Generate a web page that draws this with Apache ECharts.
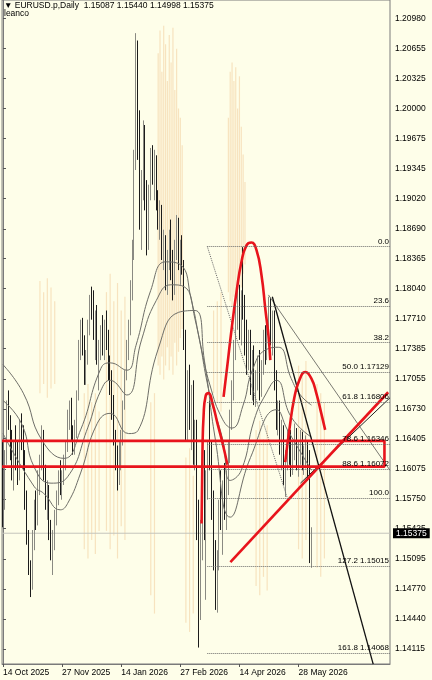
<!DOCTYPE html>
<html><head><meta charset="utf-8">
<script src="https://cdn.jsdelivr.net/npm/echarts@6/dist/echarts.min.js"></script>
<style>html,body{margin:0;padding:0;background:#fefee9}#c{width:432px;height:680px}</style>
</head><body><div id="c"></div><script>
const titleText = '\u25BC EURUSD.p,Daily  1.15087 1.15440 1.14998 1.15375';
const subTitle = 'leanco';
const startDate = '2025-10-14';
const slotCount = 210;
const holidays = ['2025-12-25', '2026-01-01'];
const dateTicks = ['14 Oct 2025', '27 Nov 2025', '14 Jan 2026', '27 Feb 2026', '14 Apr 2026', '28 May 2026'];
const priceTicks = [1.20980, 1.20655, 1.20325, 1.20000, 1.19675, 1.19345, 1.19020, 1.18690, 1.18365, 1.18040, 1.17710, 1.17385, 1.17055, 1.16730, 1.16405, 1.16075, 1.15750, 1.15425, 1.15095, 1.14770, 1.14440, 1.14115];
const lastPrice = 1.15375;
// [open, close, low, high]
const candles = [
[1.1595,1.1574,1.1544,1.1639],[1.1574,1.1623,1.1563,1.1628],[1.1623,1.1672,1.1612,1.1682],[1.1672,1.1661,1.1650,1.1693],
[1.1661,1.1628,1.1617,1.1666],[1.1628,1.1606,1.1595,1.1650],[1.1606,1.1633,1.1584,1.1639],[1.1633,1.1617,1.1606,1.1655],
[1.1617,1.1601,1.1590,1.1639],[1.1601,1.1650,1.1595,1.1661],[1.1650,1.1639,1.1628,1.1668],[1.1639,1.1612,1.1606,1.1655],
[1.1612,1.1568,1.1563,1.1628],[1.1568,1.1530,1.1525,1.1584],[1.1530,1.1497,1.1492,1.1541],[1.1497,1.1481,1.1468,1.1508],
[1.1481,1.1530,1.1476,1.1541],[1.1530,1.1563,1.1519,1.1574],[1.1563,1.1552,1.1541,1.1584],[1.1552,1.1595,1.1546,1.1606],
[1.1595,1.1612,1.1579,1.1623],[1.1612,1.1639,1.1606,1.1655],[1.1639,1.1601,1.1595,1.1650],[1.1601,1.1568,1.1563,1.1612],
[1.1568,1.1584,1.1552,1.1595],[1.1584,1.1535,1.1530,1.1590],[1.1535,1.1514,1.1508,1.1552],[1.1514,1.1525,1.1492,1.1541],
[1.1525,1.1557,1.1519,1.1563],[1.1557,1.1579,1.1546,1.1584],[1.1579,1.1595,1.1568,1.1606],[1.1595,1.1584,1.1579,1.1617],
[1.1584,1.1601,1.1574,1.1606],[1.1601,1.1615,1.1590,1.1623],[1.1615,1.1633,1.1606,1.1639],[1.1633,1.1661,1.1626,1.1672],
[1.1661,1.1677,1.1650,1.1682],[1.1677,1.1644,1.1639,1.1685],[1.1644,1.1628,1.1623,1.1655],[1.1628,1.1650,1.1623,1.1661],
[1.1650,1.1688,1.1641,1.1693],[1.1688,1.1737,1.1682,1.1748],[1.1737,1.1759,1.1726,1.1770],[1.1759,1.1742,1.1731,1.1772],
[1.1742,1.1706,1.1699,1.1753],[1.1706,1.1726,1.1699,1.1737],[1.1726,1.1764,1.1721,1.1770],[1.1764,1.1791,1.1753,1.1797],
[1.1791,1.1780,1.1770,1.1806],[1.1780,1.1753,1.1748,1.1802],[1.1753,1.1770,1.1726,1.1780],[1.1770,1.1726,1.1721,1.1786],
[1.1726,1.1737,1.1693,1.1748],[1.1737,1.1759,1.1726,1.1764],[1.1759,1.1742,1.1731,1.1775],[1.1742,1.1764,1.1726,1.1770],
[1.1764,1.1748,1.1737,1.1780],[1.1748,1.1710,1.1704,1.1759],[1.1710,1.1699,1.1688,1.1731],[1.1699,1.1672,1.1661,1.1715],
[1.1672,1.1639,1.1633,1.1688],[1.1639,1.1617,1.1606,1.1650],[1.1617,1.1595,1.1584,1.1633],[1.1595,1.1628,1.1590,1.1639],
[1.1628,1.1639,1.1606,1.1650],[1.1639,1.1677,1.1633,1.1682],[1.1677,1.1710,1.1672,1.1715],[1.1710,1.1742,1.1704,1.1748],
[1.1742,1.1759,1.1726,1.1770],[1.1759,1.1802,1.1753,1.1813],[1.1802,1.1846,1.1791,1.1857],[1.1846,1.1944,1.1835,1.1955],
[1.1944,1.2042,1.1933,1.2082],[1.2042,1.1955,1.1944,1.2074],[1.1955,1.1879,1.1868,1.1998],[1.1879,1.1922,1.1846,1.1933],
[1.1922,1.1966,1.1900,1.1987],[1.1966,1.1900,1.1889,1.1982],[1.1900,1.1851,1.1840,1.1922],[1.1851,1.1906,1.1846,1.1917],
[1.1906,1.1949,1.1900,1.1957],[1.1949,1.1922,1.1917,1.1960],[1.1922,1.1938,1.1900,1.1955],[1.1938,1.1895,1.1889,1.1949],
[1.1895,1.1873,1.1868,1.1911],[1.1873,1.1889,1.1857,1.1900],[1.1889,1.1840,1.1835,1.1895],[1.1840,1.1857,1.1824,1.1868],
[1.1857,1.1808,1.1802,1.1862],[1.1808,1.1835,1.1797,1.1846],[1.1835,1.1857,1.1824,1.1868],[1.1857,1.1819,1.1813,1.1879],
[1.1819,1.1802,1.1791,1.1846],[1.1802,1.1846,1.1797,1.1857],[1.1846,1.1873,1.1835,1.1884],[1.1873,1.1830,1.1824,1.1881],
[1.1830,1.1846,1.1808,1.1857],[1.1846,1.1824,1.1819,1.1862],[1.1824,1.1742,1.1737,1.1835],[1.1742,1.1650,1.1639,1.1759],
[1.1650,1.1704,1.1639,1.1715],[1.1704,1.1661,1.1650,1.1721],[1.1661,1.1682,1.1628,1.1699],[1.1682,1.1623,1.1612,1.1704],
[1.1623,1.1650,1.1606,1.1661],[1.1650,1.1541,1.1530,1.1661],[1.1541,1.1465,1.1413,1.1574],[1.1465,1.1541,1.1443,1.1552],
[1.1541,1.1584,1.1508,1.1595],[1.1584,1.1541,1.1530,1.1628],[1.1541,1.1595,1.1465,1.1606],[1.1595,1.1628,1.1574,1.1639],
[1.1628,1.1617,1.1606,1.1682],[1.1617,1.1563,1.1552,1.1639],[1.1563,1.1508,1.1497,1.1584],[1.1508,1.1465,1.1454,1.1530],
[1.1465,1.1508,1.1451,1.1519],[1.1508,1.1563,1.1497,1.1574],[1.1563,1.1552,1.1541,1.1606],[1.1552,1.1584,1.1514,1.1595],
[1.1584,1.1557,1.1552,1.1614],[1.1557,1.1595,1.1541,1.1606],[1.1595,1.1628,1.1579,1.1639],[1.1628,1.1661,1.1614,1.1672],
[1.1661,1.1693,1.1650,1.1704],[1.1693,1.1737,1.1682,1.1748],[1.1737,1.1780,1.1726,1.1791],[1.1780,1.1797,1.1759,1.1811],
[1.1797,1.1759,1.1748,1.1808],[1.1759,1.1791,1.1742,1.1802],[1.1791,1.1780,1.1770,1.1849],[1.1780,1.1742,1.1731,1.1797],
[1.1742,1.1721,1.1710,1.1770],[1.1721,1.1748,1.1715,1.1759],[1.1748,1.1699,1.1688,1.1759],[1.1699,1.1726,1.1682,1.1737],
[1.1726,1.1688,1.1677,1.1742],[1.1688,1.1704,1.1675,1.1715],[1.1704,1.1721,1.1693,1.1731],[1.1721,1.1693,1.1682,1.1737],
[1.1693,1.1715,1.1686,1.1726],[1.1715,1.1748,1.1710,1.1759],[1.1748,1.1731,1.1721,1.1764],[1.1731,1.1764,1.1726,1.1770],
[1.1764,1.1786,1.1753,1.1795],[1.1786,1.1753,1.1742,1.1794],[1.1753,1.1770,1.1731,1.1780],[1.1770,1.1699,1.1693,1.1780],
[1.1699,1.1655,1.1650,1.1715],[1.1655,1.1672,1.1644,1.1682],[1.1672,1.1628,1.1623,1.1682],[1.1628,1.1650,1.1606,1.1661],
[1.1650,1.1595,1.1590,1.1655],[1.1595,1.1617,1.1577,1.1628],[1.1617,1.1639,1.1606,1.1650],[1.1639,1.1623,1.1612,1.1655],
[1.1623,1.1606,1.1599,1.1650],[1.1606,1.1633,1.1601,1.1639],[1.1633,1.1644,1.1617,1.1657],[1.1644,1.1612,1.1606,1.1652],
[1.1612,1.1628,1.1599,1.1639],[1.1628,1.1639,1.1612,1.1650],[1.1639,1.1615,1.1606,1.1648],[1.1615,1.1623,1.1601,1.1633],
[1.1623,1.1633,1.1608,1.1644],[1.1633,1.1606,1.1595,1.1639],[1.1606,1.1509,1.1505,1.1628],[1.15087,1.15375,1.14998,1.15440]
];
// faint background histogram stripes: [bar index, low, high]
const shadeStripes = [
[20,1.1690,1.1812],[22,1.1700,1.1800],[24,1.1685,1.1815],[26,1.1695,1.1805],[28,1.1700,1.1790],
[44,1.1520,1.1690],[46,1.1510,1.1700],[48,1.1530,1.1680],[50,1.1515,1.1690],[52,1.1540,1.1670],
[56,1.1540,1.1800],[58,1.1520,1.1820],[60,1.1535,1.1790],[62,1.1510,1.1810],[64,1.1545,1.1780],[66,1.1530,1.1795],
[80,1.1470,1.1680],[82,1.1450,1.1690],[84,1.1720,1.2060],[85,1.1710,1.2085],[86,1.1730,1.2040],[87,1.1705,1.2090],
[88,1.1720,1.2070],[89,1.1740,1.2030],[90,1.1715,1.2080],[91,1.1730,1.2050],[92,1.1710,1.2088],[93,1.1745,1.2020],
[94,1.1720,1.2065],[95,1.1735,1.2000],[96,1.1750,1.1990],[97,1.1760,1.1960],
[99,1.1440,1.1620],[101,1.1430,1.1630],[103,1.1450,1.1600],
[114,1.1690,1.1780],[116,1.1680,1.1790],[118,1.1670,1.1800],
[122,1.1800,1.1990],[123,1.1790,1.2040],[124,1.1785,1.2050],[125,1.1795,1.2030],[126,1.1800,1.2045],
[127,1.1810,1.2000],[128,1.1790,1.2035],[129,1.1805,1.1980],[130,1.1820,1.1950],[131,1.1830,1.1920],
[137,1.1480,1.1650],[139,1.1470,1.1660],[141,1.1490,1.1640],[143,1.1475,1.1655],
[160,1.1520,1.1720],[162,1.1510,1.1710],[164,1.1530,1.1725],[170,1.1500,1.1700],[172,1.1490,1.1690],[174,1.1510,1.1680]
];
// moving-average lines: [bar index, price]
const maUpper = [[0,1.1721],[11,1.1690],[21,1.1639],[33,1.1619],[42,1.1650],[53,1.1717],[58,1.1723],[67,1.1715],[72,1.1742],[80,1.1802],[88,1.1833],[96,1.1830],[102,1.1791],[107,1.1742],[112,1.1699],[119,1.1661],[124,1.1652],[130,1.1677],[135,1.1715],[142,1.1737],[149,1.1740],[156,1.1706],[161,1.1688],[167,1.1677]];
const maMiddle = [[0,1.1682],[10,1.1657],[17,1.1609],[26,1.1592],[35,1.1599],[46,1.1653],[53,1.1693],[58,1.1704],[67,1.1688],[75,1.1748],[83,1.1791],[91,1.1808],[98,1.1806],[104,1.1770],[112,1.1688],[119,1.1639],[123,1.1595],[129,1.1606],[136,1.1661],[142,1.1688],[148,1.1704],[156,1.1664],[167,1.1642]];
const maLower = [[0,1.1646],[17,1.1588],[22,1.1581],[31,1.1563],[35,1.1570],[42,1.1603],[51,1.1657],[58,1.1668],[68,1.1646],[73,1.1649],[84,1.1738],[95,1.1778],[104,1.1780],[109,1.1726],[115,1.1639],[123,1.1555],[134,1.1620],[148,1.1672],[154,1.1650],[167,1.1606]];
// Fibonacci retracement
const fibStart = [110.6, 1.18497];
const fibEnd = [153.9, 1.15760];
const fibNames = ['0.0', '23.6', '38.2', '50.0 1.17129', '61.8 1.16806', '78.6 1.16346', '88.6 1.16072', '100.0', '127.2 1.15015', '161.8 1.14068'];
const fibPrices = [1.18497, 1.17851, 1.17451, 1.17129, 1.16806, 1.16346, 1.16072, 1.15760, 1.15015, 1.14068];
// hand-drawn annotations: [bar index, price]
const redBox = [[-0.5,1.1638],[206.5,1.1638],[206.5,1.1610],[-0.5,1.1610]];
const redTrend = [[123.1,1.1506],[208.5,1.1691]];
const redArc1 = [[107.5,1.1548],[108.0,1.1628],[108.6,1.1666],[109.7,1.1687],[111.3,1.1690],[113.4,1.1679],[116.1,1.1657],[118.8,1.1636],[121.5,1.1612]];
const redArc2 = [[119.4,1.1686],[121.5,1.1721],[123.7,1.1759],[126.4,1.1800],[129.1,1.1833],[131.8,1.1851],[134.5,1.1854],[137.2,1.1846],[139.9,1.1819],[142.1,1.1780],[143.7,1.1753],[144.7,1.1726]];
const redArc3 = [[152.8,1.1615],[155.0,1.1650],[157.7,1.1685],[160.4,1.1704],[163.6,1.1713],[166.9,1.1706],[169.6,1.1690],[172.3,1.1668],[174.4,1.1650]];
const blackTrend = [[145.8,1.1795],[200.4,1.1395]];
const grayTrend = [[143.7,1.1797],[209.5,1.1606]];
const thinTrend = [[161,1.1592],[209.5,1.1685]];
const bidLine = [[-0.5,1.15375],[209.5,1.15375]];

const months = ['Jan','Feb','Mar','Apr','May','Jun','Jul','Aug','Sep','Oct','Nov','Dec'];
function buildDates() {
  const out = [];
  const d = new Date(startDate + 'T00:00:00Z');
  while (out.length < slotCount) {
    const dow = d.getUTCDay();
    const iso = d.toISOString().slice(0, 10);
    if (dow !== 0 && dow !== 6 && holidays.indexOf(iso) < 0) {
      out.push(d.getUTCDate() + ' ' + months[d.getUTCMonth()] + ' ' + d.getUTCFullYear());
    }
    d.setUTCDate(d.getUTCDate() + 1);
  }
  return out;
}
const dates = buildDates();
const shadeData = shadeStripes.map(s => [s[0], s[1], s[2]]);

const FONT = "'Liberation Sans', Arial, sans-serif";
const showTick = (i, v) => dateTicks.indexOf(v) >= 0;

function lineSeries(data, color, width, extra) {
  return Object.assign({
    type: 'line', xAxisIndex: 1, yAxisIndex: 0, data: data, showSymbol: false, symbol: 'none',
    silent: true, animation: false, clip: true,
    lineStyle: { color: color, width: width }
  }, extra || {});
}

const fibMarks = fibPrices.map((p, k) => [
  { name: fibNames[k], coord: [fibStart[0], p] },
  { coord: [209.5, p] }
]);

const chart = echarts.init(document.getElementById('c'), null, { renderer: 'canvas' });
chart.setOption({
  animation: false,
  backgroundColor: '#fefee9',
  title: {
    text: titleText, subtext: subTitle, left: 2, top: 0, itemGap: -1, padding: [1, 2],
    textStyle: { fontSize: 8.5, fontWeight: 'normal', color: '#000', fontFamily: FONT },
    subtextStyle: { fontSize: 8.5, color: '#000', fontFamily: FONT }
  },
  grid: { left: 1, right: 42, top: 0, bottom: 16, show: true, borderColor: '#7a7a7a', borderWidth: 1 },
  xAxis: [{
    type: 'category', data: dates, boundaryGap: true,
    axisLine: { show: true, lineStyle: { color: '#7a7a7a' } },
    axisTick: { show: true, alignWithLabel: true, interval: showTick, length: 3, lineStyle: { color: '#555' } },
    axisLabel: { interval: showTick, align: 'left', margin: 4, fontSize: 8.5, color: '#000', fontFamily: FONT },
    splitLine: { show: false }
  }, {
    type: 'value', min: -0.5, max: 209.5, show: false
  }],
  yAxis: {
    type: 'value', position: 'right', min: 1.13951, max: 1.21181, scale: true,
    axisLine: { show: true, lineStyle: { color: '#7a7a7a' } },
    axisTick: { show: true, customValues: priceTicks, length: 3, lineStyle: { color: '#555' } },
    axisLabel: { customValues: priceTicks, formatter: v => v.toFixed(5), fontSize: 8.5, color: '#000', margin: 5, fontFamily: FONT },
    splitLine: { show: false }
  },
  series: [
    {
      type: 'custom', xAxisIndex: 1, yAxisIndex: 0, data: shadeData, silent: true, z: 0,
      encode: { x: 0, y: [1, 2] },
      renderItem: function (params, api) {
        const top = api.coord([api.value(0), api.value(2)]);
        const bottom = api.coord([api.value(0), api.value(1)]);
        return {
          type: 'rect',
          shape: { x: top[0] - 0.6, y: top[1], width: 1.2, height: bottom[1] - top[1] },
          style: { fill: 'rgba(240,196,140,0.45)' }
        };
      }
    },
    lineSeries(bidLine, '#c4c4bc', 1, {
      z: 1,
      endLabel: { show: true, formatter: () => lastPrice.toFixed(5), distance: 3, backgroundColor: '#000', color: '#fff',
        padding: [1, 3, 0, 3], fontSize: 8.5, fontFamily: FONT }
    }),
    {
      type: 'candlestick', xAxisIndex: 0, yAxisIndex: 0, data: candles, barWidth: '70%', silent: true,
      itemStyle: { color: '#cfcfc4', color0: '#1c1c1c', borderColor: '#8a8a82', borderColor0: '#1c1c1c', borderWidth: 1 }
    },
    lineSeries(maUpper, '#6e6e68', 1, { smooth: 0.5 }),
    lineSeries(maMiddle, '#6e6e68', 1, { smooth: 0.5 }),
    lineSeries(maLower, '#6e6e68', 1, { smooth: 0.5 }),
    lineSeries([fibStart, fibEnd], '#6a6a6a', 1, {
      lineStyle: { color: '#6a6a6a', width: 1, type: 'dotted' },
      markLine: {
        silent: true, symbol: 'none', animation: false,
        lineStyle: { color: '#6a6a6a', type: 'dotted', width: 1 },
        label: { show: true, position: 'insideEndTop', distance: 1, formatter: p => p.name,
          color: '#000', fontSize: 8, fontFamily: FONT },
        data: fibMarks
      }
    }),
    lineSeries(grayTrend, '#7a7a72', 1),
    lineSeries(blackTrend, '#111', 1.3),
    lineSeries(thinTrend, '#222', 1),
    lineSeries(redBox, '#e8141c', 2.6),
    lineSeries(redTrend, '#e8141c', 2.6),
    lineSeries(redArc1, '#e8141c', 2.6, { smooth: 0.5 }),
    lineSeries(redArc2, '#e8141c', 2.6, { smooth: 0.5 }),
    lineSeries(redArc3, '#e8141c', 2.6, { smooth: 0.5 })
  ]
});
</script></body></html>
